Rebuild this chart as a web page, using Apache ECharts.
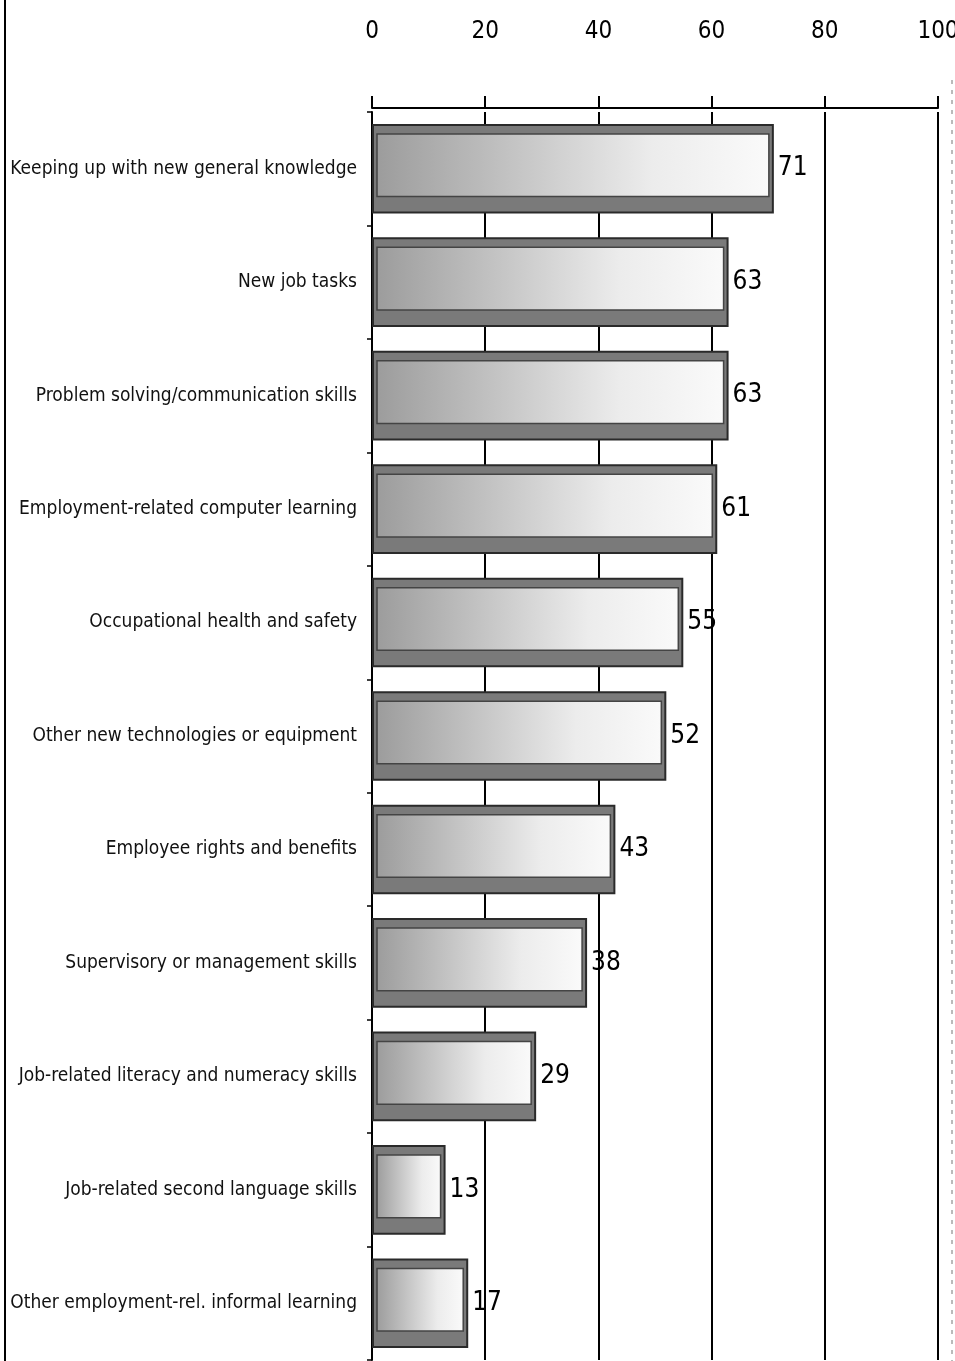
<!DOCTYPE html>
<html>
<head>
<meta charset="utf-8">
<script src="https://cdn.jsdelivr.net/npm/echarts@6/dist/echarts.min.js"></script>
<style>
html,body{margin:0;padding:0;background:#fff;}
#main{width:955px;height:1361px;}
</style>
</head>
<body>
<div id="main"></div>
<script>
var categories = [
  "Keeping up with new general knowledge",
  "New job tasks",
  "Problem solving/communication skills",
  "Employment-related computer learning",
  "Occupational health and safety",
  "Other new technologies or equipment",
  "Employee rights and benefits",
  "Supervisory or management skills",
  "Job-related literacy and numeracy skills",
  "Job-related second language skills",
  "Other employment-rel. informal learning"
];
var values = [71, 63, 63, 61, 55, 52, 43, 38, 29, 13, 17];
var xTicks = { min: 0, max: 100, step: 20 };

var FONT = "'Liberation Sans Narrow', 'DejaVu Sans Condensed', 'Roboto Condensed', 'Arial Narrow', sans-serif";
var chart = echarts.init(document.getElementById('main'));

var innerData = values.map(function (v, i) { return [v, i]; });

chart.setOption({
  backgroundColor: '#ffffff',
  animation: false,
  grid: { left: 372, right: 17, top: 112, bottom: 1, containLabel: false, outerBoundsMode: 'none' },
  xAxis: {
    type: 'value', position: 'top', offset: 4, min: xTicks.min, max: xTicks.max, interval: xTicks.step,
    axisLine: { show: true, lineStyle: { color: '#000', width: 2 } },
    axisTick: { show: true, inside: false, length: 12, lineStyle: { color: '#000', width: 2 } },
    axisLabel: { margin: 64, fontSize: 24, fontFamily: FONT, color: '#000' },
    splitLine: { show: true, showMinLine: false, lineStyle: { color: '#000', width: 2 } }
  },
  yAxis: {
    type: 'category', inverse: true, data: categories,
    axisLine: { show: true, lineStyle: { color: '#000', width: 2 } },
    axisTick: { show: true, length: 5, lineStyle: { color: '#000', width: 1.5 } },
    axisLabel: { margin: 15, fontSize: 19, fontFamily: FONT, color: '#111' }
  },
  series: [
    {
      type: 'bar', data: values, barWidth: '79%', z: 2,
      itemStyle: { color: '#7a7a7a', borderColor: '#2a2a2a', borderWidth: 2 },
      label: {
        show: true, position: 'right', distance: 4, fontSize: 26, fontFamily: FONT, color: '#000'
      }
    },
    {
      type: 'custom', data: innerData, z: 3, silent: true,
      encode: { x: 0, y: 1 },
      renderItem: function (params, api) {
        var v = api.value(0), c = api.value(1);
        var p0 = api.coord([0, c]);
        var p1 = api.coord([v, c]);
        var band = api.size([0, 1])[1];
        var h = band * 0.79;
        var top = p0[1] - h / 2;
        var x = p0[0] + 5;
        var w = p1[0] - p0[0] - 10;
        var y = top + 10;
        var ih = h - 27;
        return {
          type: 'rect',
          shape: { x: x, y: y, width: w, height: ih },
          style: {
            fill: new echarts.graphic.LinearGradient(0, 0, 1, 0, [
              { offset: 0, color: '#9c9c9c' },
              { offset: 0.35, color: '#c4c4c4' },
              { offset: 0.7, color: '#ececec' },
              { offset: 1, color: '#fafafa' }
            ]),
            stroke: '#444', lineWidth: 1.5
          }
        };
      }
    }
  ],
  graphic: [
    { type: 'line', shape: { x1: 5, y1: 0, x2: 5, y2: 1361 }, style: { stroke: '#000', lineWidth: 2 } },
    { type: 'line', shape: { x1: 952, y1: 80, x2: 952, y2: 1361 }, style: { stroke: '#777', lineWidth: 1, lineDash: [4, 6] } }
  ]
});
</script>
</body>
</html>
